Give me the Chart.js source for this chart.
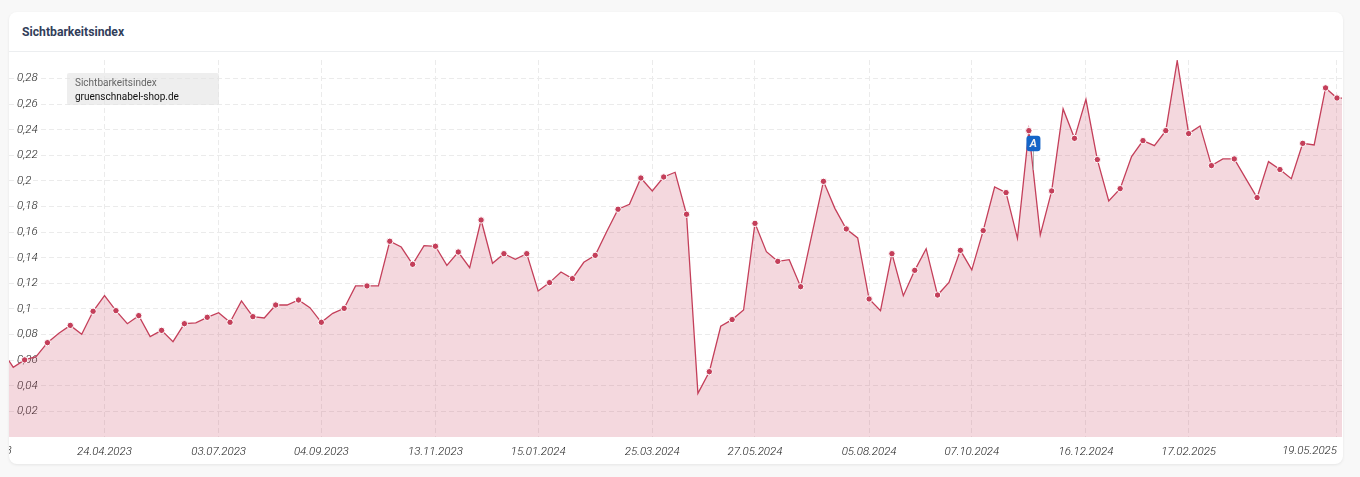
<!DOCTYPE html>
<html lang="de">
<head>
<meta charset="utf-8">
<title>Sichtbarkeitsindex</title>
<script src="https://cdn.jsdelivr.net/npm/chart.js@4"></script>
<style>
  html, body { margin: 0; height: 100%; background: #f8f8f8; font-family: Roboto, sans-serif; overflow: hidden; }
  .karte { position: absolute; left: 9px; top: 12px; width: 1334px; height: 452px; background: #fff; border-radius: 8px; box-shadow: 0 1px 3px rgba(0,0,0,.08); }
  .kopf { position: absolute; left: 0; right: 0; top: 0; height: 39px; border-bottom: 1px solid #eceef0; line-height: 40px; padding-left: 13px; font-size: 12.2px; font-weight: 700; color: #323e5a; }
  #wrap { position: absolute; left: 0; top: 0; width: 1360px; height: 477px; }
  .legende { position: absolute; left: 67px; top: 73px; width: 144px; padding: 3px 0 0 8px; height: 29px; background: rgba(228,228,228,.62); border-radius: 2px; font-size: 10px; line-height: 13.5px; color: #666; }
  .legende b { display: block; font-weight: 400; color: #111; }
</style>
</head>
<body>
<div class="karte"><div class="kopf">Sichtbarkeitsindex</div></div>
<div id="wrap"><canvas id="grafik"></canvas></div>
<div class="legende">Sichtbarkeitsindex<b>gruenschnabel-shop.de</b></div>
<script>
// Woche 0 = 27.02.2023, Woche -1 liegt schon links vom Rand
const ersteWoche = -1;
const werte = [
  0.068, 0.0545, 0.0602, 0.0627, 0.0737, 0.081, 0.0872, 0.0802, 0.0982, 0.1104,
  0.0987, 0.0885, 0.0948, 0.0784, 0.0833, 0.0745, 0.0885, 0.0891, 0.0935, 0.0971,
  0.0896, 0.1063, 0.094, 0.093, 0.1031, 0.1031, 0.107, 0.101, 0.0896, 0.0966,
  0.1005, 0.118, 0.118, 0.118, 0.1529, 0.1484, 0.1349, 0.1495, 0.149, 0.1341,
  0.1445, 0.1323, 0.1695, 0.1357, 0.1432, 0.1388, 0.1432, 0.1141, 0.1206, 0.1289,
  0.1237, 0.1365, 0.1419, 0.1604, 0.1779, 0.1818, 0.2023, 0.1922, 0.2031, 0.2068,
  0.174, 0.0341, 0.051, 0.0865, 0.0917, 0.0992, 0.1669, 0.1448, 0.1372, 0.1385,
  0.1174, 0.1586, 0.1997, 0.1786, 0.1625, 0.1555, 0.1078, 0.0987, 0.1432, 0.1104,
  0.1302, 0.1471, 0.1109, 0.1208, 0.1458, 0.1305, 0.1612, 0.1953, 0.1909, 0.1552,
  0.2393, 0.1578, 0.1922, 0.2563, 0.2333, 0.2638, 0.2167, 0.1844, 0.194, 0.219,
  0.2315, 0.2276, 0.2393, 0.294, 0.237, 0.243, 0.212, 0.2172, 0.2172, 0.202,
  0.187, 0.2151, 0.2089, 0.2018, 0.2294, 0.2281, 0.2727, 0.2648, 0.2645
];
const ohneMarker = [-1, 117];
const tickWochen = [8, 18, 27, 37, 46, 56, 65, 75, 84, 94, 103, 116];
const tickTexte = ['24.04.2023', '03.07.2023', '04.09.2023', '13.11.2023', '15.01.2024', '25.03.2024',
  '27.05.2024', '05.08.2024', '07.10.2024', '16.12.2024', '17.02.2025', '19.05.2025'];
const yTicks = [0.02, 0.04, 0.06, 0.08, 0.1, 0.12, 0.14, 0.16, 0.18, 0.2, 0.22, 0.24, 0.26, 0.28];
const randTextLinks = '13.02.2023';
const ereignisWoche = 89.4;
const ereignisWert = 0.2293;
const ereignisWertUnten = 0.2086;

const farbe = '#c43f5a';
const gitter = '#ebebeb';
const schrift = { family: 'Roboto', size: 11.5, style: 'italic', weight: '300' };

const punkte = werte.map((w, i) => ({ x: ersteWoche + i, y: w }));

// Highcharts-Eigenheiten: abgeschnittenes Label links, letztes Label rechtsbuendig, Ereignis-Badge
const extras = {
  id: 'extras',
  afterDraw(chart) {
    const { ctx, chartArea, scales } = chart;
    const xs = scales.x, ys = scales.y;
    ctx.save();
    ctx.font = `italic 300 ${schrift.size}px Roboto`;
    ctx.fillStyle = '#222';
    ctx.textBaseline = 'middle';
    ctx.textAlign = 'right';
    ctx.fillText(tickTexte[tickTexte.length - 1], xs.getPixelForValue(116), 451.5);
    ctx.beginPath();
    ctx.rect(chartArea.left, chartArea.bottom, 100, 30);
    ctx.clip();
    ctx.fillText(randTextLinks, chartArea.left + 2.7, 451.5);
    ctx.restore();

    const bx = xs.getPixelForValue(ereignisWoche);
    const by = ys.getPixelForValue(ereignisWert);
    ctx.save();
    ctx.strokeStyle = '#aaa';
    ctx.lineWidth = 1;
    ctx.beginPath();
    ctx.moveTo(bx, by);
    ctx.lineTo(bx, ys.getPixelForValue(ereignisWertUnten));
    ctx.stroke();
    ctx.fillStyle = '#1565c8';
    ctx.beginPath();
    ctx.roundRect(bx - 7, by - 7.75, 14, 15.5, 3);
    ctx.fill();
    ctx.fillStyle = '#f2f2f2';
    ctx.font = 'italic 700 11px Roboto';
    ctx.textAlign = 'center';
    ctx.textBaseline = 'middle';
    ctx.fillText('A', bx, by + 0.5);
    ctx.restore();
  }
};

function gerarGrafik() {
  const ctx = document.getElementById('grafik').getContext('2d');
  new Chart(ctx, {
    type: 'line',
    data: {
      datasets: [{
        label: 'gruenschnabel-shop.de',
        data: punkte,
        borderColor: farbe,
        borderWidth: 1.3,
        backgroundColor: 'rgba(198, 60, 88, 0.2)',
        fill: 'origin',
        tension: 0,
        pointBackgroundColor: farbe,
        pointBorderColor: '#fff',
        pointBorderWidth: 1,
        pointRadius: c => {
          const w = ersteWoche + c.dataIndex;
          return ohneMarker.includes(w) || (w % 2 === 0 && w !== 116) ? 0 : 3.2;
        }
      }]
    },
    plugins: [extras],
    options: {
      responsive: true,
      maintainAspectRatio: false,
      animation: false,
      layout: { padding: { left: 9, right: 18, top: 60, bottom: 0 } },
      plugins: { legend: { display: false }, tooltip: { enabled: false } },
      scales: {
        x: {
          type: 'linear',
          min: -0.37,
          max: 116.44,
          afterBuildTicks: s => { s.ticks = tickWochen.map(v => ({ value: v })); },
          afterFit: s => { s.height = 40; },
          grid: { color: gitter, drawTicks: false },
          border: { display: false, dash: [5, 3] },
          ticks: {
            autoSkip: false,
            maxRotation: 0,
            padding: 8,
            color: '#222',
            font: schrift,
            callback: v => (v === 116 ? '' : tickTexte[tickWochen.indexOf(v)])
          }
        },
        y: {
          min: 0,
          max: 0.2945,
          afterBuildTicks: s => { s.ticks = yTicks.map(v => ({ value: v })); },
          afterFit: s => { s.width = 0; },
          grid: { color: gitter, drawTicks: false },
          border: { display: false, dash: [5, 3] },
          ticks: {
            mirror: true,
            padding: 8,
            color: '#222',
            font: schrift,
            callback: v => String(v).replace('.', ',')
          }
        }
      }
    }
  });
}

window.onload = gerarGrafik;
</script>
</body>
</html>
